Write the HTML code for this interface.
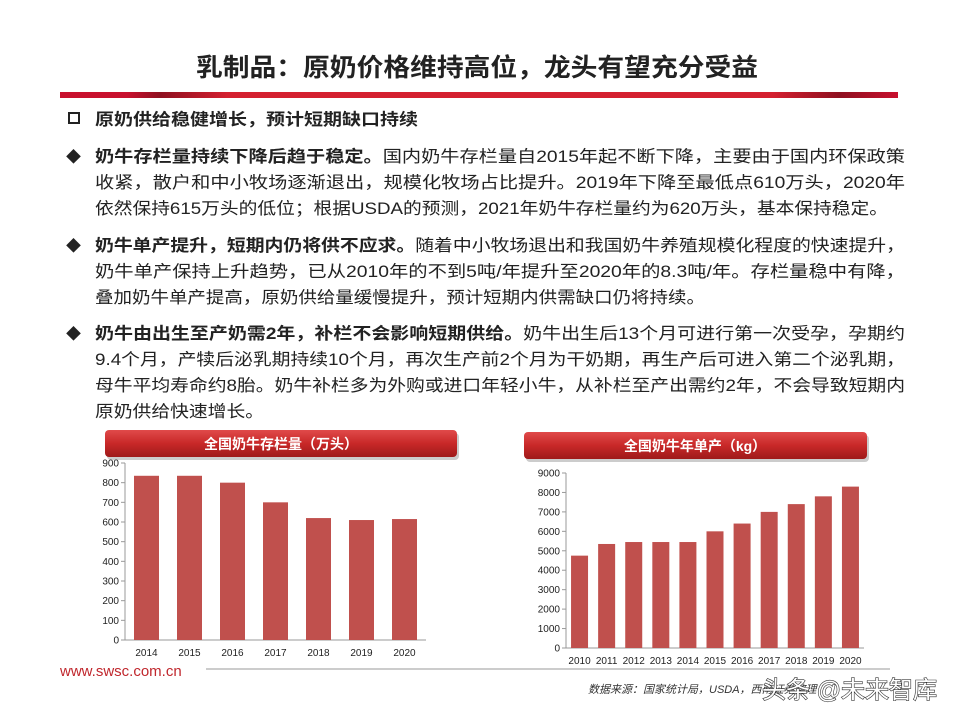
<!DOCTYPE html>
<html><head><meta charset="utf-8">
<style>
html,body{margin:0;padding:0;background:#fff;}
svg{display:block;font-family:"Liberation Sans","Noto Sans CJK SC",sans-serif;}
</style></head>
<body>
<svg width="960" height="720" viewBox="0 0 960 720">
<defs>
<linearGradient id="rl" x1="0" x2="1" y1="0" y2="0">
<stop offset="0" stop-color="#c8102e"/><stop offset="0.08" stop-color="#c8102e"/><stop offset="0.12" stop-color="#8e1020"/><stop offset="0.2" stop-color="#d42030"/><stop offset="0.85" stop-color="#d42030"/><stop offset="0.93" stop-color="#8e1020"/><stop offset="1" stop-color="#c8102e"/>
</linearGradient>
<linearGradient id="bn" x1="0" x2="0" y1="0" y2="1">
<stop offset="0" stop-color="#e04a4a"/><stop offset="0.5" stop-color="#c82828"/><stop offset="1" stop-color="#9e1a1a"/>
</linearGradient>
</defs>
<text x="477" y="76" text-anchor="middle" font-size="25" font-weight="bold" fill="#222" textLength="562" lengthAdjust="spacingAndGlyphs">乳制品：原奶价格维持高位，龙头有望充分受益</text>
<rect x="60" y="92" width="838" height="6" fill="url(#rl)"/>

<g font-size="16.5" fill="#222">
<rect x="69" y="113" width="10" height="10" fill="none" stroke="#222" stroke-width="2"/>
<text x="95" y="125" font-weight="bold" textLength="323" lengthAdjust="spacingAndGlyphs">原奶供给稳健增长，预计短期缺口持续</text>
<text x="66" y="162" font-size="15">◆</text>
<text x="95" y="162" textLength="810" lengthAdjust="spacingAndGlyphs"><tspan font-weight="bold">奶牛存栏量持续下降后趋于稳定。</tspan>国内奶牛存栏量自2015年起不断下降，主要由于国内环保政策</text>
<text x="95" y="188" textLength="810" lengthAdjust="spacingAndGlyphs">收紧，散户和中小牧场逐渐退出，规模化牧场占比提升。2019年下降至最低点610万头，2020年</text>
<text x="95" y="214" textLength="793" lengthAdjust="spacingAndGlyphs">依然保持615万头的低位；根据USDA的预测，2021年奶牛存栏量约为620万头，基本保持稳定。</text>
<text x="66" y="251" font-size="15">◆</text>
<text x="95" y="251" textLength="810" lengthAdjust="spacingAndGlyphs"><tspan font-weight="bold">奶牛单产提升，短期内仍将供不应求。</tspan>随着中小牧场退出和我国奶牛养殖规模化程度的快速提升，</text>
<text x="95" y="277" textLength="810" lengthAdjust="spacingAndGlyphs">奶牛单产保持上升趋势，已从2010年的不到5吨/年提升至2020年的8.3吨/年。存栏量稳中有降，</text>
<text x="95" y="303" textLength="610" lengthAdjust="spacingAndGlyphs">叠加奶牛单产提高，原奶供给量缓慢提升，预计短期内供需缺口仍将持续。</text>
<text x="66" y="339" font-size="15">◆</text>
<text x="95" y="339" textLength="810" lengthAdjust="spacingAndGlyphs"><tspan font-weight="bold">奶牛由出生至产奶需2年，补栏不会影响短期供给。</tspan>奶牛出生后13个月可进行第一次受孕，孕期约</text>
<text x="95" y="365" textLength="810" lengthAdjust="spacingAndGlyphs">9.4个月，产犊后泌乳期持续10个月，再次生产前2个月为干奶期，再生产后可进入第二个泌乳期，</text>
<text x="95" y="391" textLength="810" lengthAdjust="spacingAndGlyphs">母牛平均寿命约8胎。奶牛补栏多为外购或进口年轻小牛，从补栏至产出需约2年，不会导致短期内</text>
<text x="95" y="417" textLength="169" lengthAdjust="spacingAndGlyphs">原奶供给快速增长。</text>
</g>

<g>
<rect x="107" y="433" width="352" height="27" rx="4" fill="#999" opacity="0.5"/>
<rect x="105" y="430" width="352" height="27" rx="4" fill="url(#bn)"/>
<text x="281" y="449" text-anchor="middle" font-size="14" font-weight="bold" fill="#fff">全国奶牛存栏量（万头）</text>
</g>
<g id="c1"></g>

<g>
<rect x="526" y="435" width="343" height="27" rx="4" fill="#999" opacity="0.5"/>
<rect x="524" y="432" width="343" height="27" rx="4" fill="url(#bn)"/>
<text x="695" y="451" text-anchor="middle" font-size="14" font-weight="bold" fill="#fff">全国奶牛年单产（kg）</text>
</g>
<g id="c2"></g>

<text x="60" y="676" font-size="15" fill="#c0272d">www.swsc.com.cn</text>
<line x1="206" y1="669" x2="890" y2="669" stroke="#bbb" stroke-width="1.5"/>
<text x="588" y="693" font-size="11" font-style="italic" fill="#333">数据来源：国家统计局，USDA，西南证券整理</text>
<text x="762" y="698" font-size="24" fill="#fff" stroke="#333" stroke-width="1.2" paint-order="stroke">头条 @未来智库</text>
</svg>
<script>
var herdYears=["2014","2015","2016","2017","2018","2019","2020"];
var herdValues=[835,835,800,700,620,610,615];
var herdTicks=[0,100,200,300,400,500,600,700,800,900];
var yieldYears=["2010","2011","2012","2013","2014","2015","2016","2017","2018","2019","2020"];
var yieldValues=[4750,5350,5450,5450,5450,6000,6400,7000,7400,7800,8300];
var yieldTicks=[0,1000,2000,3000,4000,5000,6000,7000,8000,9000];
var NS="http://www.w3.org/2000/svg";
function mk(p,t,a){var e=document.createElementNS(NS,t);for(var k in a)e.setAttribute(k,a[k]);p.appendChild(e);return e;}
function draw(g,cats,vals,ticks,x0,x1,y0,y1,max,bw,prefix){
  function ys(v){return y0-(v/max)*(y0-y1);}
  var step=(x1-x0)/cats.length;
  function xs(i){return x0+step*(i+0.5);}
  var ax=mk(g,'line',{x1:x0,y1:y0,x2:x1,y2:y0,stroke:'#999'});
  
  
  var ay=mk(g,'line',{x1:x0,y1:y1,x2:x0,y2:y0,stroke:'#999'});
  
  
  ticks.forEach(function(t){
    var y=ys(t);
    var tk=mk(g,'line',{x1:x0-4,y1:y,x2:x0,y2:y,stroke:'#999'});
    
    
    var tl=mk(g,'text',{x:x0-6,y:y+3.5,'text-anchor':'end','font-size':10,fill:'#222'});
    tl.textContent=t;
    
    
  });
  cats.forEach(function(c,i){
    var b=mk(g,'rect',{x:xs(i)-bw/2,y:ys(vals[i]),width:bw,height:y0-ys(vals[i]),fill:'#c0504d'});
    
    
    var l=mk(g,'text',{x:xs(i),y:y0+16,'text-anchor':'middle','font-size':10,fill:'#222'});
    l.textContent=c;
    
    
  });
}
draw(document.getElementById('c1'),herdYears,herdValues,herdTicks,125,426,640,463,900,25,'herd');
draw(document.getElementById('c2'),yieldYears,yieldValues,yieldTicks,566,864,648,473,9000,17,'yield');
</script>
</body></html>
